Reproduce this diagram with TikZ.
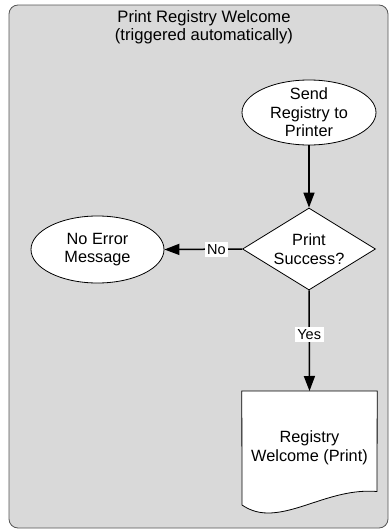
\documentclass[tikz,border=0pt]{standalone}
\usepackage{fontspec}
\setmainfont{Liberation Sans}
\usetikzlibrary{shapes.geometric,arrows.meta}
\definecolor{panel}{HTML}{D9D9D9}
\definecolor{panelborder}{HTML}{555555}
\tikzset{
  shapebox/.style={draw=black, line width=0.8pt, fill=white, inner sep=0pt},
  txt/.style={align=center, font=\fontsize{16.3}{18.5}\selectfont, inner sep=0pt},
  conn/.style={draw=black, line width=1.5pt, -{Triangle[length=15pt,width=11pt]}},
  lbl/.style={fill=white, font=\fontsize{14.5}{16}\selectfont, inner xsep=2.5pt, inner ysep=2.5pt},
}
\begin{document}
\begin{tikzpicture}[x=1pt,y=-1pt]
\useasboundingbox (0,0) rectangle (391,530);
% container
\draw[panelborder, fill=panel, line width=0.8pt, rounded corners=9pt] (9,5) rectangle (388,528);
\node[txt, font=\fontsize{16.6}{17.5}\selectfont] (title) at (204,27) {Print Registry Welcome\\(triggered automatically)};
% nodes
\node[shapebox, ellipse, minimum width=134pt, minimum height=65pt] (send) at (309,112.5) {};
\node[txt] at (send.center) {Send\\Registry to\\Printer};
\node[shapebox, diamond, minimum width=133pt, minimum height=82pt] (dia) at (309,249) {};
\node[txt] at (dia.center) {Print\\Success?};
\node[shapebox, ellipse, minimum width=133pt, minimum height=67pt] (noerr) at (97.5,249.5) {};
\node[txt] at (noerr.center) {No Error\\Message};
% document shape
\node[minimum width=135pt, minimum height=100pt, inner sep=0pt, anchor=north] (doc) at (309.5,391) {};
\draw[black, line width=0.8pt, fill=white]
  (doc.north west) -- (doc.north east) -- (377,491.5)
  .. controls (335,488) and (300,513) .. (268,513)
  .. controls (256,513) and (248,509) .. (242,505) -- cycle;
\node[txt] at (309.5,448) {Registry\\Welcome (Print)};
% connectors
\draw[conn] (send.south) -- (dia.north);
\draw[conn] (dia.west) -- node[lbl, pos=0.33] {No} (noerr.east);
\draw[conn] (dia.south) -- node[lbl, pos=0.44] {Yes} (doc.north);
\end{tikzpicture}
\end{document}
